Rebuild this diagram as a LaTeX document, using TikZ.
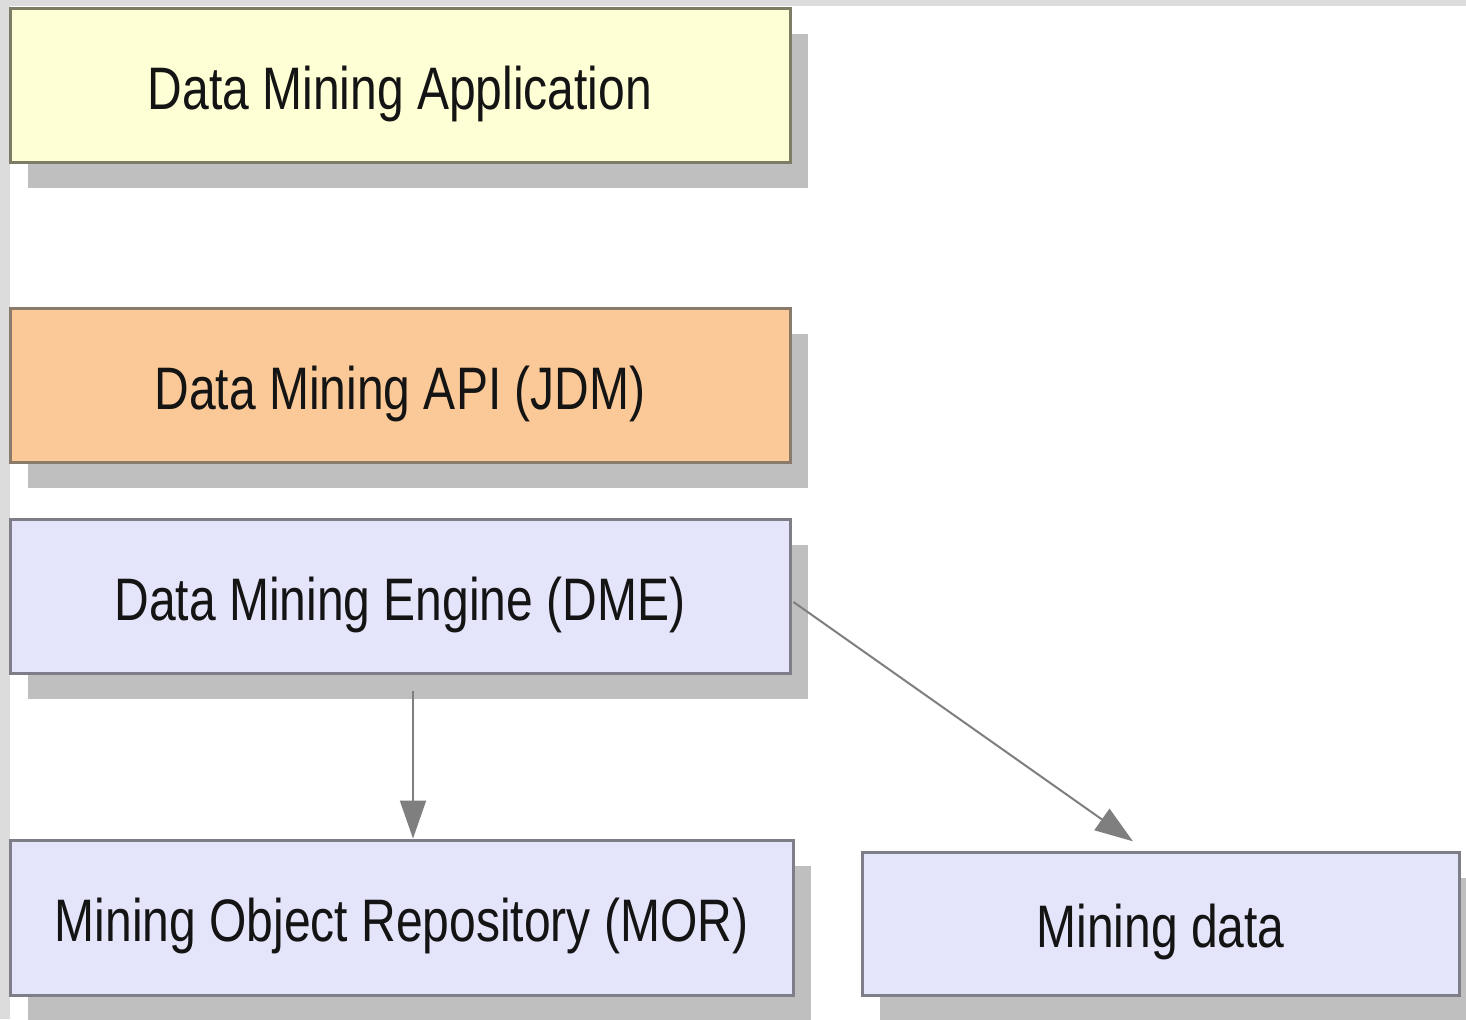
\documentclass[tikz,border=0pt]{standalone}
\usepackage{fontspec}
\setmainfont[FakeStretch=0.8]{Liberation Sans}
\usetikzlibrary{arrows.meta,shadows,calc}
\definecolor{bggray}{HTML}{DCDCDC}
\definecolor{shadowgray}{HTML}{BFBFBF}
\definecolor{appfill}{HTML}{FFFFD6}
\definecolor{appdraw}{HTML}{7D7D66}
\definecolor{apifill}{HTML}{FBC998}
\definecolor{apidraw}{HTML}{8A7A6A}
\definecolor{lavfill}{HTML}{E4E4FA}
\definecolor{lavdraw}{HTML}{7E7E88}
\definecolor{arrgray}{HTML}{7F7F7F}
\begin{document}
\begin{tikzpicture}[x=0.5pt,y=-0.5pt,
  boxstyle/.style={draw, line width=1.5pt, inner sep=0pt, align=center,
    text height=24pt, text depth=0pt,
    font=\fontsize{30pt}{36pt}\selectfont, text=black!92,
    drop shadow={shadow xshift=9pt, shadow yshift=-13pt, fill=shadowgray, opacity=1}},
  arr/.style={draw=arrgray, line width=1pt, -{Triangle[length=19pt,width=13pt]}, arrgray}
]
\useasboundingbox (0,0) rectangle (1466,1019);
\fill[white] (0,0) rectangle (1466,1019);
\fill[bggray] (0,0) rectangle (10,1019);
\fill[bggray] (0,0) rectangle (1466,6);

\node[boxstyle, fill=appfill, draw=appdraw, minimum width=390pt, minimum height=77pt]
  (app) at (400,85) {Data Mining Application};
\node[boxstyle, fill=apifill, draw=apidraw, minimum width=390pt, minimum height=77pt]
  (api) at (400,385) {Data Mining API (JDM)};
\node[boxstyle, fill=lavfill, draw=lavdraw, minimum width=390pt, minimum height=77pt]
  (dme) at (400,596) {Data Mining Engine (DME)};
\node[boxstyle, fill=lavfill, draw=lavdraw, minimum width=391.5pt, minimum height=77.5pt]
  (mor) at (401.5,917.5) {Mining Object Repository (MOR)};
\node[boxstyle, fill=lavfill, draw=lavdraw, minimum width=298.5pt, minimum height=71.5pt]
  (md) at (1160.5,923.5) {Mining data};

\coordinate (a1) at ($(dme.south)+(13,16)$);
\draw[arr] (a1) -- (a1 |- mor.north);
\coordinate (a2) at ($(dme.east)+(2,6)$);
\coordinate (a2e) at ($(md.north)+(-14.5,0)$);
\draw[arr, shorten >=8pt] (a2) -- (a2e);
\end{tikzpicture}
\end{document}
